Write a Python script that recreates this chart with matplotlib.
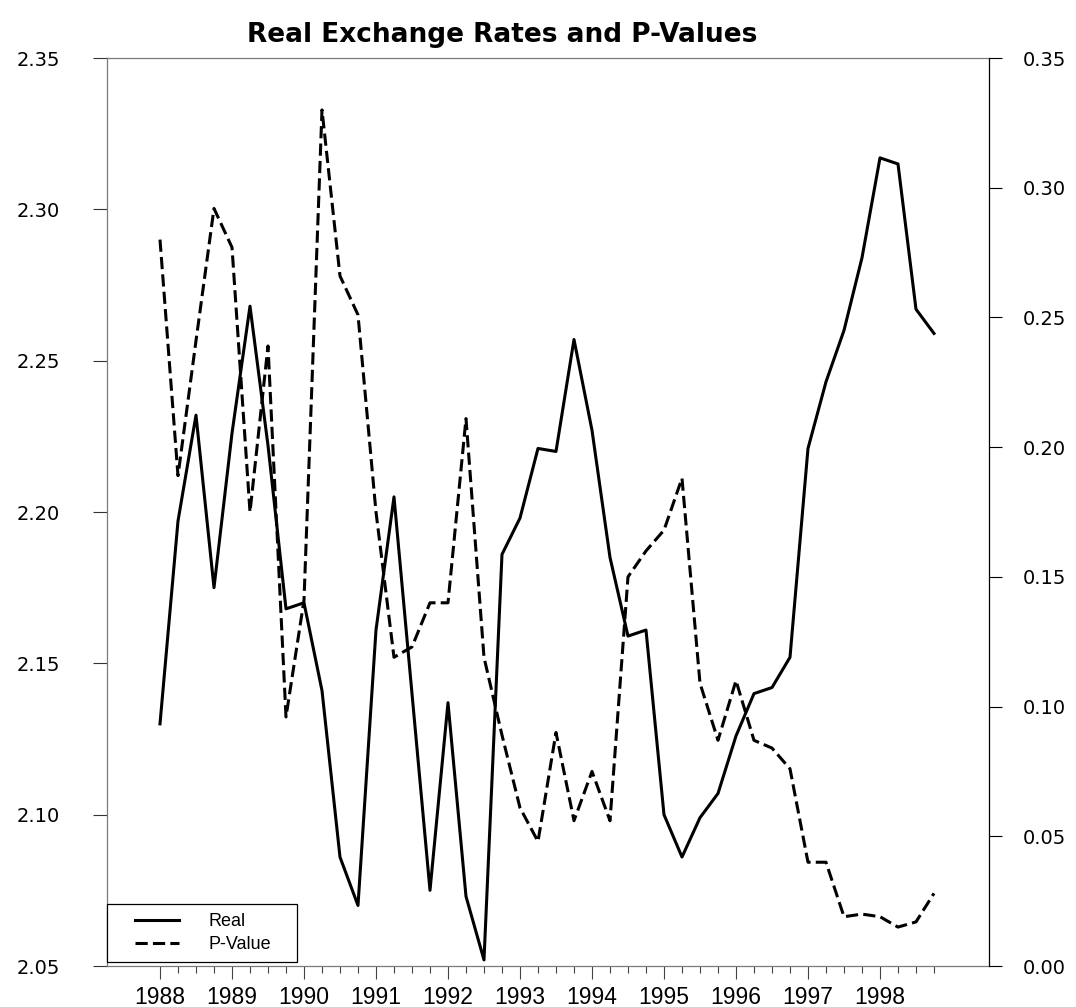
import matplotlib
matplotlib.use("Agg")
import matplotlib.pyplot as plt
import numpy as np
from matplotlib.ticker import FixedLocator, FormatStrFormatter
from matplotlib.legend_handler import HandlerLine2D

plt.rcParams['font.family'] = ['Liberation Sans', 'DejaVu Sans']

# quarterly observations, 1988Q1 .. 1998Q4
years = np.arange(1988, 1999, 0.25)

real = [2.130, 2.197, 2.232, 2.175, 2.226, 2.268, 2.222, 2.168,
        2.170, 2.141, 2.086, 2.070, 2.161, 2.205, 2.140, 2.075,
        2.137, 2.073, 2.052, 2.186, 2.198, 2.221, 2.220, 2.257,
        2.227, 2.185, 2.159, 2.161, 2.100, 2.086, 2.099, 2.107,
        2.126, 2.140, 2.142, 2.152, 2.221, 2.243, 2.260, 2.284,
        2.317, 2.315, 2.267, 2.259]

pvalue = [0.280, 0.189, 0.241, 0.292, 0.277, 0.175, 0.239, 0.096,
          0.141, 0.330, 0.266, 0.251, 0.175, 0.119, 0.123, 0.140,
          0.140, 0.211, 0.119, 0.089, 0.061, 0.048, 0.090, 0.056,
          0.075, 0.056, 0.150, 0.160, 0.168, 0.188, 0.109, 0.087,
          0.110, 0.087, 0.084, 0.076, 0.040, 0.040, 0.019, 0.020,
          0.019, 0.015, 0.017, 0.028]

fig = plt.figure(figsize=(10.76, 10.07), dpi=100)
ax = fig.add_axes([107/1076, 1-966/1007, (989-107)/1076, (966-58)/1007])
ax2 = ax.twinx()

l1, = ax.plot(years, real, color='black', lw=2.2, label='Real')
l2, = ax2.plot(years, pvalue, color='black', lw=2.2, dashes=(4, 1.7), label='P-Value')

ax.set_xlim(1987.264, 1999.514)
ax.set_ylim(2.05, 2.35)
ax2.set_ylim(0.0, 0.35)

ax.set_yticks(np.arange(2.05, 2.3501, 0.05))
ax.yaxis.set_major_formatter(FormatStrFormatter('%.2f'))
ax2.set_yticks(np.arange(0.0, 0.3501, 0.05))
ax2.yaxis.set_major_formatter(FormatStrFormatter('%.2f'))

ax.xaxis.set_major_locator(FixedLocator(np.arange(1988, 1999)))
ax.xaxis.set_minor_locator(FixedLocator(years))
ax.set_xticklabels([str(y) for y in range(1988, 1999)])

ax.tick_params(axis='x', which='major', direction='out', length=9.5, width=0.8,
               color='#444444', labelsize=16.5, pad=5)
ax.tick_params(axis='x', which='minor', direction='out', length=5, width=0.8,
               color='#444444')
ax.tick_params(axis='y', direction='out', length=10, width=0.8, color='#333333',
               labelsize=14, pad=24)
ax2.tick_params(axis='y', direction='out', length=9.5, width=0.8, color='black',
                labelsize=14, pad=15)
for lab in ax.get_yticklabels() + ax2.get_yticklabels():
    lab.set_fontfamily('DejaVu Sans')

for s in ['left', 'top', 'bottom']:
    ax.spines[s].set_color('#7a7a7a')
    ax.spines[s].set_linewidth(0.9)
ax.spines['right'].set_visible(False)
for s in ['left', 'top', 'bottom']:
    ax2.spines[s].set_visible(False)
ax2.spines['right'].set_color('black')
ax2.spines['right'].set_linewidth(0.9)

leg = ax2.legend([l1, l2], ['Real', 'P-Value'], loc='lower left',
                 bbox_to_anchor=(0.0, 0.004, 190/882, 0.06), mode='expand',
                 borderaxespad=0, fontsize=13,
                 frameon=True, fancybox=False, edgecolor='black', framealpha=1,
                 borderpad=0.5, handlelength=3.5, handletextpad=1.6,
                 labelspacing=0.35,
                 handler_map={l1: HandlerLine2D(xpad=1.05), l2: HandlerLine2D(xpad=1.05)})
leg.get_frame().set_linewidth(0.9)

fig.text(502/1076, 1-42/1007, 'Real Exchange Rates and P-Values', ha='center',
         va='baseline', fontsize=19, fontweight='bold', family='DejaVu Sans')

plt.savefig('out.png', dpi=100)
